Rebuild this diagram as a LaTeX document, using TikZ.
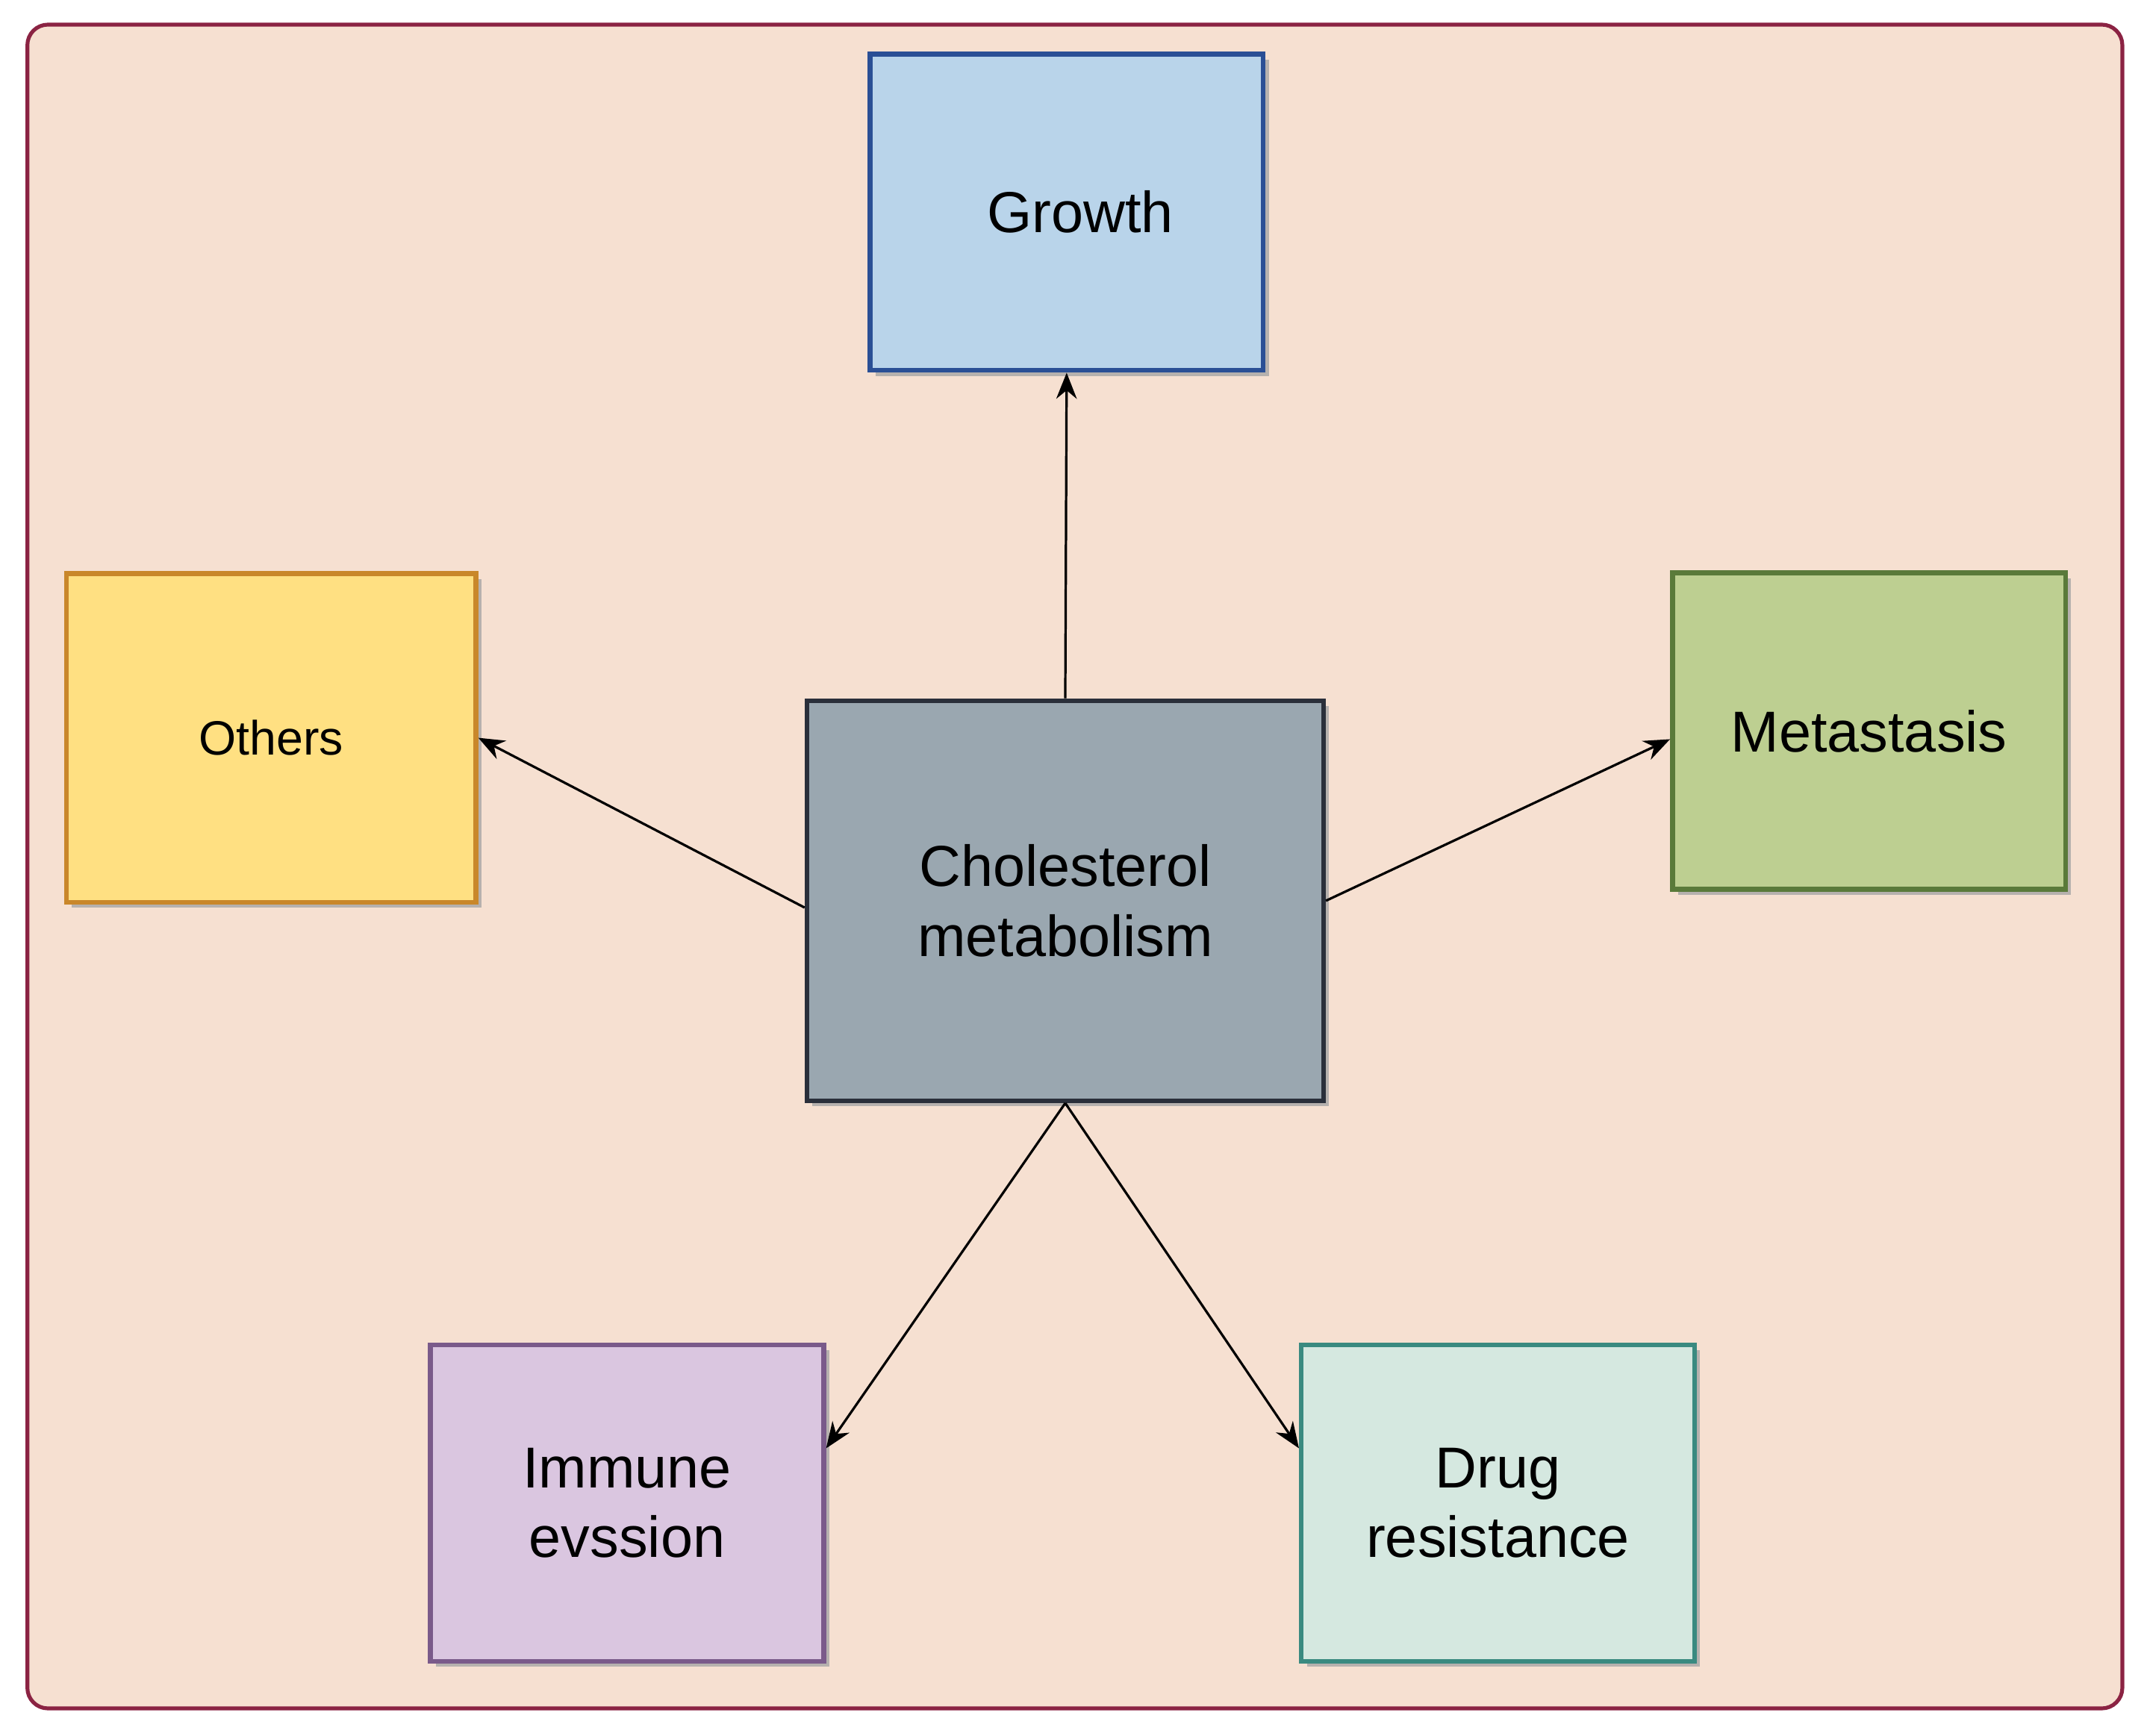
\documentclass[tikz,border=0pt]{standalone}
\usepackage{fontspec}
\setmainfont{Liberation Sans}
\usetikzlibrary{arrows.meta,shadows}
\definecolor{bgfill}{HTML}{F6E0D1}
\definecolor{bgdraw}{HTML}{8B2343}
\begin{document}
\begin{tikzpicture}[x=0.01cm,y=-0.01cm,
  topic/.style={rectangle,draw,line width=1pt,minimum width=2.87cm,minimum height=2.31cm,
    align=center,font=\fontsize{12}{14.5}\selectfont,
    drop shadow={shadow xshift=0.4mm,shadow yshift=-0.4mm,fill=black!35,opacity=0.8}},
  link/.style={-{Stealth[length=1.9mm,width=1.5mm]},line width=0.5pt}]
\useasboundingbox (0,0) rectangle (1568,1268);
\draw[bgdraw,fill=bgfill,line width=0.8pt,rounded corners=0.15cm] (20,18) rectangle (1550,1248);
\node[topic,fill={rgb,255:red,185;green,212;blue,234},draw={rgb,255:red,42;green,79;blue,149}] (gr) at (779,155) {\hspace*{0.2cm}Growth};
\node[topic,fill={rgb,255:red,255;green,224;blue,130},draw={rgb,255:red,201;green,135;blue,42},
  minimum width=2.99cm,minimum height=2.40cm,font=\fontsize{10}{12}\selectfont] (ot) at (198,539) {Others};
\node[topic,fill={rgb,255:red,189;green,207;blue,145},draw={rgb,255:red,90;green,122;blue,58}] (me) at (1365,534) {Metastasis};
\node[topic,fill={rgb,255:red,154;green,167;blue,176},draw={rgb,255:red,42;green,47;blue,58},
  minimum width=3.77cm,minimum height=2.92cm] (ch) at (778,658) {Cholesterol\\metabolism};
\node[topic,fill={rgb,255:red,218;green,198;blue,224},draw={rgb,255:red,122;green,90;blue,138}] (im) at (458,1098) {Immune\\evssion};
\node[topic,fill={rgb,255:red,213;green,232;blue,224},draw={rgb,255:red,58;green,138;blue,128}] (dr) at (1094,1098) {Drug\\resistance};
% connectors
\draw[link] (ch.north) -- (gr.south);
\draw[link] ([yshift=-0.05cm]ch.west) -- (ot.east);
\draw[link] (ch.east) -- ([yshift=-0.06cm]me.west);
\draw[link] (ch.south) -- ([yshift=0.4cm]im.east);
\draw[link] (ch.south) -- ([yshift=0.4cm]dr.west);
\end{tikzpicture}
\end{document}
